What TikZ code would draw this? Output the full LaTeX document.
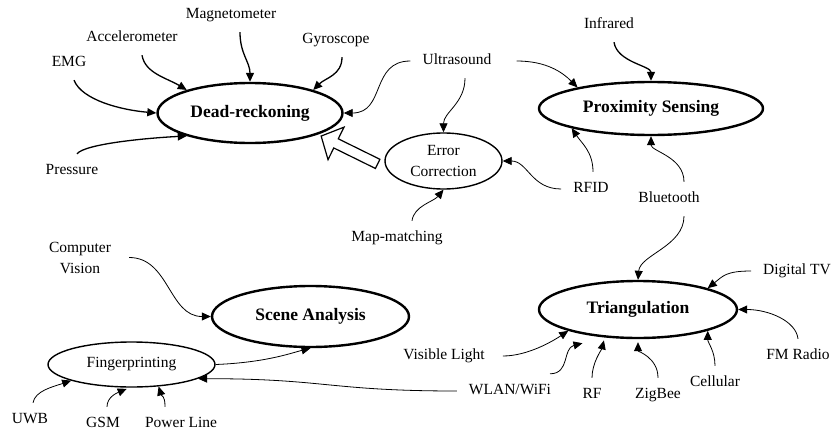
\documentclass[tikz,border=0pt]{standalone}
\usepackage{fontspec}
\setmainfont{Liberation Serif}
\usetikzlibrary{arrows.meta}
\usetikzlibrary{shapes.geometric}
\usetikzlibrary{shapes.arrows}
\newcommand{\feedtip}{-{Triangle[length=9pt,width=8pt]}}

\begin{document}
\begin{tikzpicture}[x=1pt,y=-1pt,
	method/.style={ellipse,draw,line width=2.4pt,inner sep=0pt,font=\fontsize{17.5}{21}\selectfont\bfseries},
	aux/.style={ellipse,draw,line width=1.4pt,inner sep=0pt,align=center,font=\fontsize{15.5}{21}\selectfont},
	tech/.style={inner xsep=12pt,inner ysep=10pt,text height=10.5pt,text depth=3.5pt,font=\fontsize{15.5}{21}\selectfont},
	heavy/.style={line width=1.3pt,\feedtip},
	light/.style={line width=0.8pt,\feedtip}]
		\useasboundingbox (0,0) rectangle (833,434);
		% techniques
		\node[method,minimum width=185pt,minimum height=60pt] (dr) at (250,113) {Dead-reckoning};
		\node[method,minimum width=224pt,minimum height=53pt] (prox) at (651,108.5) {Proximity Sensing};
		\node[method,minimum width=198pt,minimum height=57pt] (tri) at (638,309.5) {Triangulation};
		\node[method,minimum width=197pt,minimum height=61pt] (scene) at (310.5,316.5) {Scene Analysis};
		\node[aux,minimum width=117pt,minimum height=56pt] (corr) at (443.5,161) {Error\\Correction};
		\node[aux,minimum width=167pt,minimum height=45pt] (fp) at (131.5,364.5) {Fingerprinting};
		% sources
		\node[tech] (mag) at (231,15) {Magnetometer};
		\node[tech] (acc) at (132,38) {Accelerometer};
		\node[tech] (gyro) at (336,40) {Gyroscope};
		\node[tech] (emg) at (69,63) {EMG};
		\node[tech] (pres) at (72,171) {Pressure};
		\node[tech] (us) at (457,61) {Ultrasound};
		\node[tech] (ir) at (609,25) {Infrared};
		\node[tech] (rfid) at (591,189) {RFID};
		\node[tech] (bt) at (669,199) {Bluetooth};
		\node[tech] (mapm) at (397,238) {Map-matching};
		\node[inner xsep=12pt,inner ysep=6pt,align=center,font=\fontsize{15.5}{21}\selectfont] (cv) at (80,257.5) {Computer\\Vision};
		\node[tech] (dtv) at (797,271) {Digital TV};
		\node[tech] (vis) at (444,356) {Visible Light};
		\node[tech] (fm) at (798,356) {FM Radio};
		\node[tech] (wlan) at (510,391) {WLAN/WiFi};
		\node[tech] (rf) at (592,395) {RF};
		\node[tech] (zig) at (658,395) {ZigBee};
		\node[tech] (cell) at (715,383) {Cellular};
		\node[tech] (uwb) at (30,420) {UWB};
		\node[tech] (gsm) at (103,424) {GSM};
		\node[tech] (pl) at (181,424) {Power Line};
		% dead-reckoning
		\draw[heavy] ([xshift=9pt]mag.south) .. controls +(0,22) and +(0,-20) .. (dr.north);
		\draw[heavy] ([xshift=10pt]acc.south) .. controls +(3,18) and +(-20,-12) .. (dr.160);
		\draw[heavy] ([xshift=6pt]gyro.south) .. controls +(0,18) and +(12,-12) .. (dr.20);
		\draw[heavy] ([xshift=5pt]emg.south) .. controls +(8,20) and +(-35,-3) .. (dr.west);
		\draw[heavy] ([xshift=5pt]pres.north) .. controls +(8,-10) and +(-40,2) .. (dr.200);
		\draw[light] (us.west) .. controls +(-40,0) and +(42,0) .. (dr.east);
		\node[single arrow,draw,fill=white,line width=1.2pt,minimum height=63pt,inner sep=4.5pt,
			single arrow head extend=13pt,single arrow tip angle=95,rotate=153.8] (hint) at (351.5,151) {};
		% error correction
		\draw[light] ([xshift=8pt]us.south) .. controls +(0,25) and +(0,-20) .. (corr.north);
		\draw[light] (rfid.west) .. controls +(-30,0) and +(25,0) .. (corr.east);
		\draw[light] ([xshift=15pt]mapm.north) .. controls +(2,-15) and +(-10,12) .. (corr.south);
		% proximity
		\draw[light] ([xshift=13pt]us.east) .. controls +(30,0) and +(-15,-15) .. (prox.164);
		\draw[heavy] ([xshift=5pt]ir.south) .. controls +(3,20) and +(0,-15) .. (prox.north);
		\draw[light] ([xshift=2pt]rfid.north) .. controls +(0,-20) and +(10,15) .. (prox.194);
		\draw[light] ([xshift=15pt]bt.north) .. controls +(0,-25) and +(0,15) .. (prox.south);
		% triangulation
		\draw[light] ([xshift=15pt]bt.south) .. controls +(0,30) and +(2,-25) .. (tri.north);
		\draw[light] (dtv.west) .. controls +(-25,0) and +(15,-12) .. (tri.17);
		\draw[light] (fm.north) .. controls +(-2,-18) and +(30,0) .. (tri.east);
		\draw[light] ([xshift=6pt]vis.east) .. controls +(25,0) and +(-15,10) .. (tri.197);
		\draw[light] ([xshift=40pt]wlan.north) .. controls +(20,0) and +(-20,5) .. ([yshift=-9pt]tri.204);
		\draw[light,shorten >=3pt] (rf.north) .. controls +(0,-15) and +(-3,12) .. (tri.220);
		\draw[light,shorten >=3pt] (zig.north) .. controls +(0,-20) and +(0,12) .. (tri.south);
		\draw[light] (cell.north) .. controls +(0,-15) and +(0,12) .. (tri.-17);
		% scene analysis
		\draw[light] ([xshift=6pt]cv.east) .. controls +(40,0) and +(-42,0) .. (scene.west);
		\draw[light] (fp.east) .. controls +(50,-2) and +(-20,5) .. (scene.south);
		% fingerprinting
		\draw[light] (wlan.west) .. controls +(-127,0) and +(127,0) .. (fp.-12);
		\draw[light] ([xshift=3pt]uwb.north) .. controls +(2,-12) and +(-18,6) .. (fp.195);
		\draw[light,shorten >=3pt] ([xshift=4pt]gsm.north) .. controls +(0,-10) and +(-12,5) .. (fp.265);
		\draw[light] ([xshift=-16pt]pl.north) .. controls +(0,-12) and +(3,10) .. (fp.-39);
\end{tikzpicture}
\end{document}
